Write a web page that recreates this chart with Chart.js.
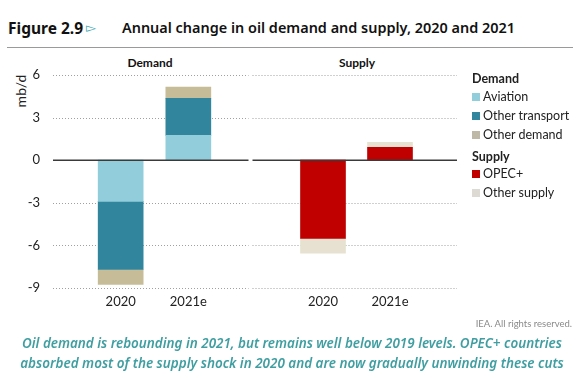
<!DOCTYPE html>
<html>
<head>
<meta charset="utf-8">
<script src="https://cdn.jsdelivr.net/npm/chart.js@4.4.0/dist/chart.umd.min.js"></script>
<style>
  html, body { margin:0; padding:0; background:#fff; }
  body { width:584px; height:378px; position:relative; overflow:hidden; font-family: Lato, sans-serif; }
  .abs { position:absolute; white-space:nowrap; }
  #fig { left:8px; top:19px; font-family:"Noto Sans", sans-serif; font-weight:700; font-size:15px; color:#111; line-height:18px; }
  #tri { left:86px; top:19px; font-size:13px; color:#3aa6b0; line-height:18px; font-family:"DejaVu Sans", sans-serif; }
  #ttl { left:122px; top:19px; font-family:"Noto Sans", sans-serif; font-weight:600; font-size:14px; color:#111; line-height:18px; }
  #rule { left:7px; top:47px; width:566px; height:1px; background:#9a9a9a; }
  .ptitle { font-weight:700; font-size:12px; color:#111; top:55px; line-height:16px; transform:translateX(-50%); }
  #mbd { left:20px; top:91px; font-size:14px; color:#222; transform:translate(-50%,-50%) rotate(-90deg); }
  .lg { left:472px; font-size:12.5px; color:#222; line-height:16px; }
  .lg.h { font-weight:700; }
  .sq { display:inline-block; width:8px; height:8px; margin-right:3px; vertical-align:0px; }
  #iea { right:12px; top:318px; font-size:9.5px; color:#8a8a8a; }
  .cap { left:292px; font-family:"Noto Sans", sans-serif; font-style:italic; font-weight:600; font-size:13.5px; color:#3f9ea1; transform:translateX(-50%); line-height:18px; }
  canvas { position:absolute; }
</style>
</head>
<body>
<div id="fig" class="abs">Figure 2.9</div>
<div id="tri" class="abs">&#9659;</div>
<div id="ttl" class="abs">Annual change in oil demand and supply, 2020 and 2021</div>
<div id="rule" class="abs"></div>
<div class="abs ptitle" style="left:150px">Demand</div>
<div class="abs ptitle" style="left:357px">Supply</div>
<div id="mbd" class="abs">mb/d</div>

<div id="cwrapL" style="position:absolute;left:0;top:0;width:270px;height:320px;"><canvas id="cL"></canvas></div>
<div id="cwrapR" style="position:absolute;left:240px;top:0;width:240px;height:320px;"><canvas id="cR"></canvas></div>

<div id="legend"></div>
<div id="iea" class="abs">IEA. All rights reserved.</div>
<div id="cap1" class="abs cap" style="top:334px">Oil demand is rebounding in 2021, but remains well below 2019 levels. OPEC+ countries</div>
<div id="cap2" class="abs cap" style="top:354px">absorbed most of the supply shock in 2020 and are now gradually unwinding these cuts</div>

<script>
// ---- data ----
const categories = ['', '2020', '2021e', ''];
const yTicks = [6, 3, 0, -3, -6, -9];
const aviation = [null, -2.9, 1.75, null];
const otherTransport = [null, -4.8, 2.6, null];
const otherDemand = [null, -1.05, 0.8, null];
const opecPlus = [null, -5.5, 0.9, null];
const otherSupply = [null, -1.05, 0.35, null];

const colors = {
  aviation: '#92cddc',
  otherTransport: '#31859c',
  otherDemand: '#c6bc98',
  opec: '#c00000',
  otherSupply: '#e6e1d0'
};

// ---- legend ----
const legendItems = [
  {t:'Demand', h:true, y:71},
  {t:'Aviation', c:colors.aviation, y:89},
  {t:'Other transport', c:colors.otherTransport, y:108},
  {t:'Other demand', c:'#bdb9a6', y:127},
  {t:'Supply', h:true, y:149},
  {t:'OPEC+', c:colors.opec, y:166},
  {t:'Other supply', c:'#dcdad2', y:185}
];
const lg = document.getElementById('legend');
legendItems.forEach(it => {
  const d = document.createElement('div');
  d.className = 'abs lg' + (it.h ? ' h' : '');
  d.style.top = it.y + 'px';
  if (it.h) d.textContent = it.t;
  else d.innerHTML = '<span class="sq" style="background:' + it.c + '"></span>' + it.t;
  lg.appendChild(d);
});

// ---- fit text widths ----
function fit(id, target) {
  const el = document.getElementById(id);
  const w = el.getBoundingClientRect().width;
  const fs = parseFloat(getComputedStyle(el).fontSize);
  el.style.fontSize = (fs * target / w).toFixed(2) + 'px';
}
fit('fig', 75);
fit('ttl', 393);
fit('cap1', 540);
fit('cap2', 544);

Chart.defaults.font.family = 'Lato, sans-serif';
Chart.defaults.font.size = 13;
Chart.defaults.color = '#222';
Chart.defaults.animation = false;

function gridPlugin(x0, x1) {
  return {
    id: 'customGrid',
    beforeDatasetsDraw(chart) {
      const ctx = chart.ctx, y = chart.scales.y;
      ctx.save();
      ctx.strokeStyle = '#a0a0a0';
      ctx.lineWidth = 1;
      ctx.setLineDash([1, 2]);
      yTicks.forEach(v => {
        if (v === 0) return;
        const py = Math.round(y.getPixelForValue(v)) + 0.5;
        ctx.beginPath(); ctx.moveTo(x0, py); ctx.lineTo(x1, py); ctx.stroke();
      });
      ctx.restore();
    },
    afterDatasetsDraw(chart) {
      const ctx = chart.ctx, y = chart.scales.y;
      ctx.save();
      ctx.strokeStyle = '#3a3a3a';
      ctx.lineWidth = 1.4;
      const py = y.getPixelForValue(0);
      ctx.beginPath(); ctx.moveTo(x0, py); ctx.lineTo(x1, py); ctx.stroke();
      ctx.restore();
    }
  };
}

function makeOptions(showY, padL, padR) {
  return {
    responsive: true,
    maintainAspectRatio: false,
    layout: { padding: { left: padL, right: padR, top: 75, bottom: 0 } },
    plugins: { legend: { display: false }, tooltip: { enabled: false }, title: { display: false } },
    scales: {
      x: {
        stacked: true,
        offset: false,
        grid: { display: false, drawTicks: false },
        border: { display: false },
        ticks: { padding: 6, maxRotation: 0, autoSkip: false, color: '#222' },
        afterFit(s) { s.height = 32; }
      },
      y: {
        stacked: true,
        display: showY,
        min: -9, max: 6,
        grid: { display: false, drawTicks: false },
        border: { display: false },
        afterBuildTicks(s) { s.ticks = yTicks.map(v => ({ value: v })); },
        ticks: { padding: 13, color: '#222' },
        afterFit(s) { s.width = showY ? 53 : 0; }
      }
    }
  };
}

new Chart(document.getElementById('cL'), {
  type: 'bar',
  data: {
    labels: categories,
    datasets: [
      { label: 'Aviation', data: aviation, backgroundColor: colors.aviation, barThickness: 45 },
      { label: 'Other transport', data: otherTransport, backgroundColor: colors.otherTransport, barThickness: 45 },
      { label: 'Other demand', data: otherDemand, backgroundColor: colors.otherDemand, barThickness: 45 }
    ]
  },
  options: makeOptions(true, 0, 14),
  plugins: [gridPlugin(53, 248.5)]
});

new Chart(document.getElementById('cR'), {
  type: 'bar',
  data: {
    labels: categories,
    datasets: [
      { label: 'OPEC+', data: opecPlus, backgroundColor: colors.opec, barThickness: 45 },
      { label: 'Other supply', data: otherSupply, backgroundColor: colors.otherSupply, barThickness: 45 }
    ]
  },
  options: makeOptions(false, 16, 23),
  plugins: [gridPlugin(12.5, 217)]
});
</script>
</body>
</html>
